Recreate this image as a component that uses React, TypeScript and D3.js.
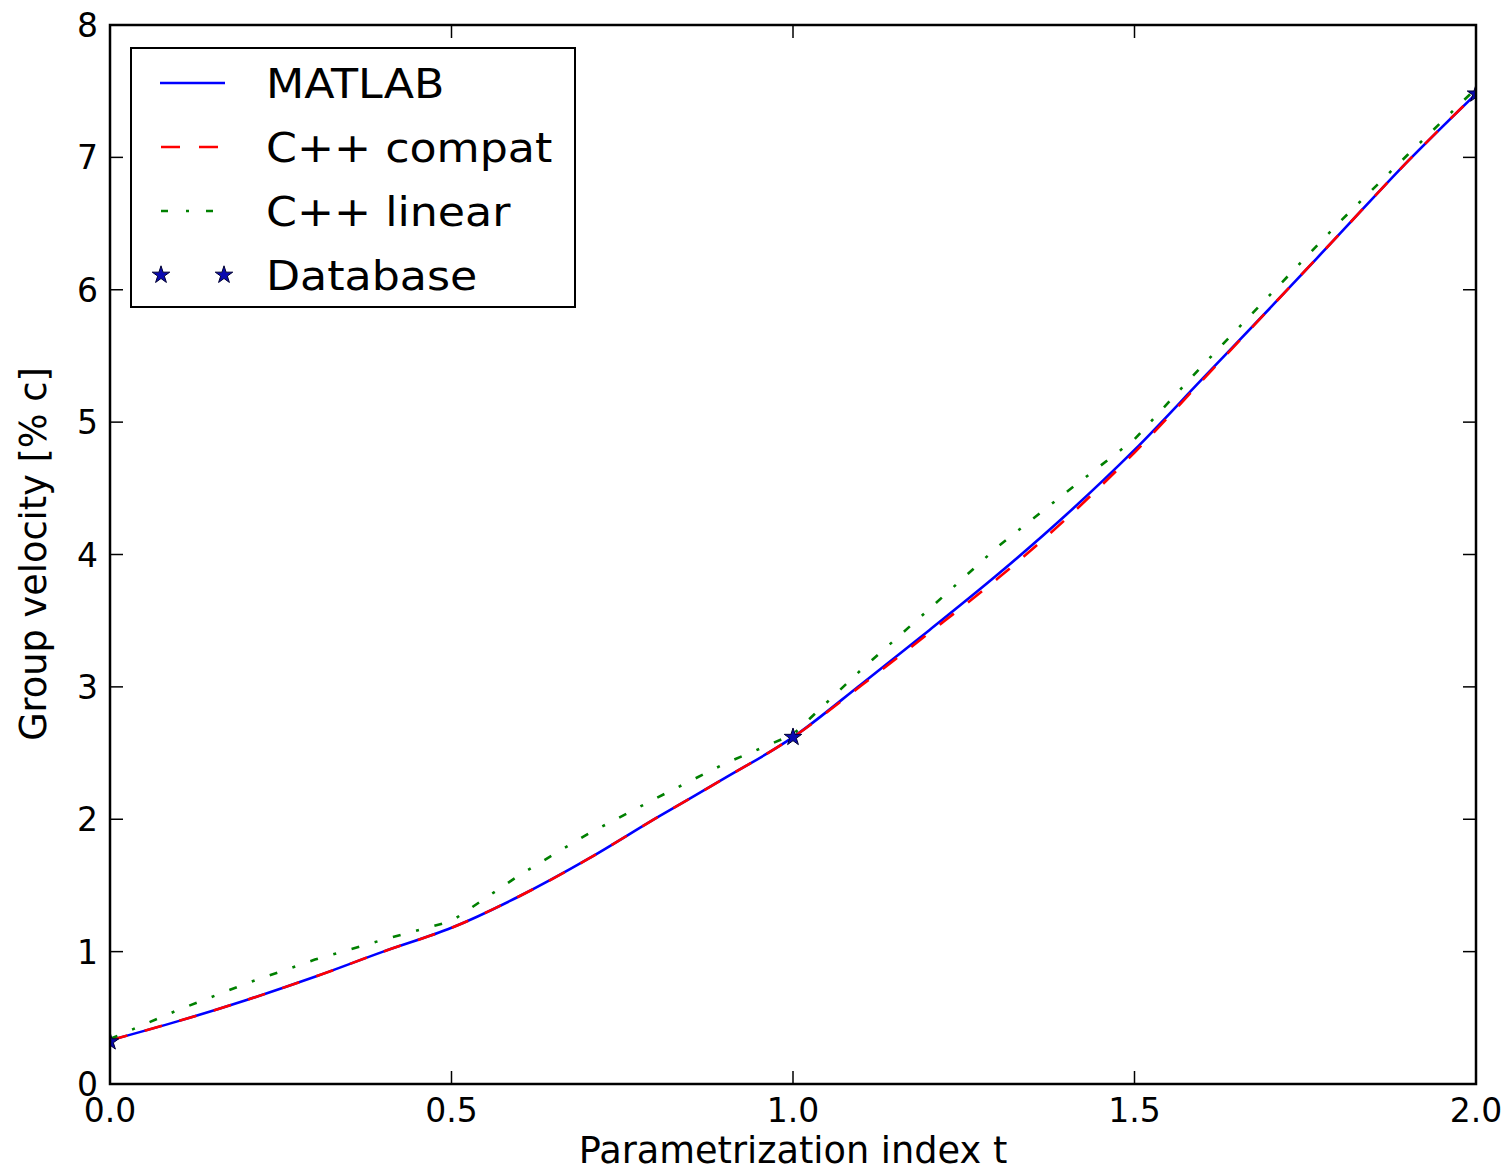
import React from "react";
import * as d3 from "d3";

// ---------- data ----------
const matlabT = [0, 0.1, 0.2, 0.3, 0.4, 0.5, 0.6, 0.7, 0.8, 0.9, 1.0, 1.1, 1.2, 1.3, 1.4, 1.5, 1.6, 1.7, 1.8, 1.9, 2.0];
const matlabV = [0.33, 0.475, 0.635, 0.81, 1.0, 1.18, 1.42, 1.7, 2.01, 2.31, 2.62, 3.02, 3.43, 3.85, 4.3, 4.79, 5.33, 5.87, 6.42, 6.97, 7.48];

const compatT = [0, 0.1, 0.2, 0.3, 0.4, 0.5, 0.6, 0.7, 0.8, 0.9, 1.0, 1.1, 1.2, 1.3, 1.4, 1.5, 1.6, 1.7, 1.8, 1.9, 2.0];
const compatV = [0.33, 0.475, 0.635, 0.81, 1.0, 1.18, 1.42, 1.7, 2.01, 2.31, 2.62, 3.01, 3.41, 3.82, 4.27, 4.77, 5.32, 5.87, 6.42, 6.97, 7.48];

const linearT = [0, 0.1, 0.2, 0.3, 0.4, 0.5, 0.6, 0.7, 0.8, 0.9, 1.0, 1.1, 1.2, 1.3, 1.4, 1.5, 1.6, 1.7, 1.8, 1.9, 2.0];
const linearV = [0.34, 0.56, 0.76, 0.94, 1.09, 1.23, 1.58, 1.89, 2.16, 2.42, 2.64, 3.13, 3.59, 4.06, 4.47, 4.87, 5.43, 5.97, 6.51, 7.02, 7.52];

const dbT = [0, 1, 2];
const dbV = [0.32, 2.62, 7.48];

const xTicks = [0, 0.5, 1.0, 1.5, 2.0];
const yTicks = [0, 1, 2, 3, 4, 5, 6, 7, 8];

const legendLabels = ["MATLAB", "C++ compat", "C++ linear", "Database"];

// ---------- layout ----------
const W = 1505;
const H = 1173;
const L = 110, R = 1476, T = 25, B = 1084;
const FONT = "'DejaVu Sans', 'Liberation Sans', sans-serif";

export default function App() {
  const x = d3.scaleLinear().domain([0, 2]).range([L, R]);
  const y = d3.scaleLinear().domain([0, 8]).range([B, T]);

  const pts = (ts: number[], vs: number[]) => ts.map((t, i) => [t, vs[i]] as [number, number]);

  const smooth = d3.line<[number, number]>().x(d => x(d[0])).y(d => y(d[1])).curve(d3.curveMonotoneX);
  const straight = d3.line<[number, number]>().x(d => x(d[0])).y(d => y(d[1])).curve(d3.curveLinear);

  const star = d3.symbol().type(d3.symbolStar).size(95)() as string;

  const tickLen = 13;
  const legendRows = [83, 147, 211, 275];

  return (
    <svg
      width={W}
      height={H}
      style={{ position: "absolute", left: 0, top: 0, background: "#fff" }}
      fontFamily={FONT}
    >
      <defs>
        <clipPath id="plotClip">
          <rect x={L} y={T} width={R - L} height={B - T} />
        </clipPath>
      </defs>
      <rect x={0} y={0} width={W} height={H} fill="#fff" />

      <g clipPath="url(#plotClip)">
        <path d={smooth(pts(matlabT, matlabV)) || ""} fill="none" stroke="#0000ff" strokeWidth={2.6} />
        <path d={smooth(pts(compatT, compatV)) || ""} fill="none" stroke="#ff0000" strokeWidth={2.6} strokeDasharray="18,18" />
        <path d={straight(pts(linearT, linearV)) || ""} fill="none" stroke="#008000" strokeWidth={2.6} strokeDasharray="8,16,3,16" />
        {dbT.map((t, i) => (
          <path key={i} d={star} transform={`translate(${x(t)},${y(dbV[i])})`} fill="#0a0ab0" stroke="#000033" strokeWidth={1} />
        ))}
      </g>

      {/* ticks, inward, all four sides */}
      <g stroke="#000" strokeWidth={1.5}>
        {xTicks.map((t, i) => (
          <g key={"xt" + i}>
            <line x1={x(t)} x2={x(t)} y1={B} y2={B - tickLen} />
            <line x1={x(t)} x2={x(t)} y1={T} y2={T + tickLen} />
          </g>
        ))}
        {yTicks.map((v, i) => (
          <g key={"yt" + i}>
            <line x1={L} x2={L + tickLen} y1={y(v)} y2={y(v)} />
            <line x1={R} x2={R - tickLen} y1={y(v)} y2={y(v)} />
          </g>
        ))}
      </g>

      {/* frame */}
      <rect x={L} y={T} width={R - L} height={B - T} fill="none" stroke="#000" strokeWidth={2.5} />

      {/* tick labels */}
      <g fontSize={33} fill="#000">
        {xTicks.map((t, i) => (
          <text key={"xl" + i} x={x(t)} y={1122} textAnchor="middle">
            {t.toFixed(1)}
          </text>
        ))}
        {yTicks.map((v, i) => (
          <text key={"yl" + i} x={98} y={y(v) + 12} textAnchor="end">
            {String(v)}
          </text>
        ))}
      </g>

      {/* axis labels */}
      <text x={(L + R) / 2} y={1163} fontSize={36.7} textAnchor="middle" fill="#000">
        Parametrization index t
      </text>
      <text
        transform={`translate(46,${554}) rotate(-90)`}
        fontSize={36.7}
        textAnchor="middle"
        fill="#000"
      >
        Group velocity [% c]
      </text>

      {/* legend */}
      <g>
        <rect x={131} y={48} width={444} height={259} fill="#fff" stroke="#000" strokeWidth={2} />
        <line x1={160} x2={225} y1={legendRows[0]} y2={legendRows[0]} stroke="#0000ff" strokeWidth={2.6} />
        <line x1={161} x2={218} y1={legendRows[1]} y2={legendRows[1]} stroke="#ff0000" strokeWidth={2.6} strokeDasharray="19,19" />
        <line x1={161} x2={216} y1={legendRows[2]} y2={legendRows[2]} stroke="#008000" strokeWidth={2.6} strokeDasharray="7,18,3,17" />
        <path d={star} transform={`translate(161,${legendRows[3]})`} fill="#0a0ab0" stroke="#000033" strokeWidth={1} />
        <path d={star} transform={`translate(224,${legendRows[3]})`} fill="#0a0ab0" stroke="#000033" strokeWidth={1} />
        {legendLabels.map((lab, i) => (
          <text
            key={lab}
            transform={`translate(266,${legendRows[i] + 15}) scale(1.08,1)`}
            fontSize={41}
            fill="#000"
          >
            {lab}
          </text>
        ))}
      </g>
    </svg>
  );
}
